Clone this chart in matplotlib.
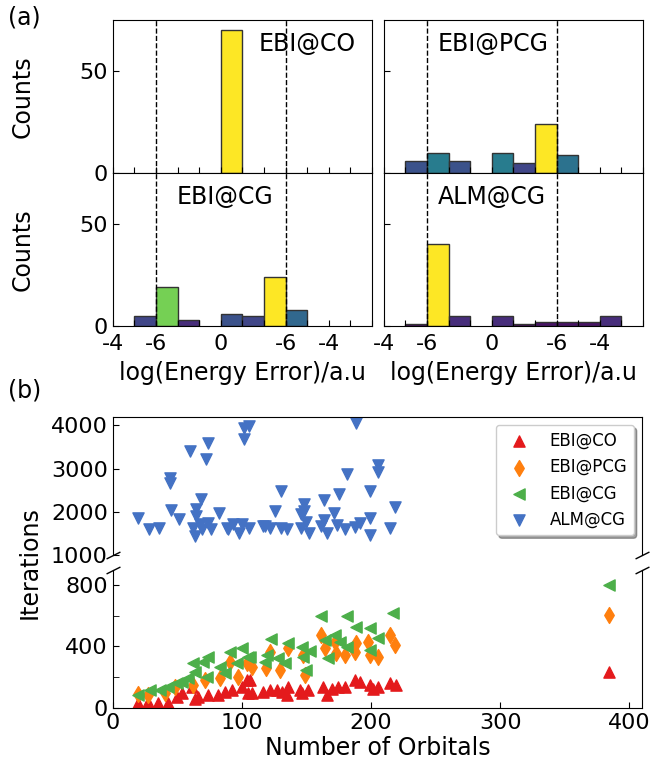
import numpy as np
import matplotlib
matplotlib.use("Agg")
from matplotlib import pyplot as plt

# ---- panel (a): histogram bins (position on the error axis) and counts
bins_co = [5]
counts_co = [70]
bins_pcg = [1, 2, 3, 5, 6, 7, 8]
counts_pcg = [6, 10, 6, 10, 5, 24, 9]
bins_cg = [1, 2, 3, 5, 6, 7, 8]
counts_cg = [5, 19, 3, 6, 5, 24, 8]
bins_alm = [1, 2, 3, 5, 6, 7, 8, 9, 10]
counts_alm = [1, 40, 5, 5, 1, 2, 2, 2, 5]

hist_names = ["EBI@CO", "EBI@PCG", "EBI@CG", "ALM@CG"]
err_ticklabels = ["-4", "", "-6", "", "", "0", "", "", "-6", "", "-4", "", ""]

# ---- panel (b): iterations vs number of orbitals
co_x = [19.8, 27.5, 35.3, 43, 49.5, 53.4, 61, 63.6, 66, 74, 81.7, 86.9, 92, 99.8, 103.6,
        104.9, 106, 107.5, 116.5, 121.7, 126.8, 130.7, 134.6, 135.8, 144.9, 146.2, 151.3,
        162.9, 165.5, 169.4, 174.5, 179.7, 187.4, 191.3, 199, 201.5, 205.4, 214.5, 219.6, 384]
co_y = [29, 39, 29, 29, 72, 94, 137, 61, 72, 83, 83, 104, 115, 137, 180,
        94, 180, 94, 104, 115, 115, 104, 83, 137, 115, 94, 115,
        137, 83, 126, 137, 137, 180, 170, 148, 126, 137, 159, 148, 231]

pcg_x = [19.8, 27.5, 40.5, 48.2, 62.3, 71.4, 83, 90.7, 97.1, 103.6, 107.5, 119, 121.7,
         129.4, 135.8, 147.4, 148.7, 161.6, 164.2, 171.9, 173.2, 179.7, 187.4, 188.7,
         197.7, 199, 205.4, 214.5, 218.3, 384]
pcg_y = [90, 83, 94, 137, 148, 180, 192, 300, 202, 290, 267, 257, 365,
         246, 387, 344, 213, 474, 387, 430, 355, 344, 365, 420,
         430, 344, 333, 474, 409, 604]

cg_x = [19.8, 28.8, 36.6, 43, 49.5, 53.4, 58.5, 62.3, 63.6, 70, 72.7, 74, 83, 86.9, 90.7,
        95.9, 99.8, 104.9, 106.2, 117.8, 119.1, 122.4, 128, 133.3, 135.8, 146.2, 147.4,
        150, 152.6, 161.6, 164.2, 166.8, 171.9, 175.8, 181, 181, 188.7, 199, 199, 205.4,
        217, 384]
cg_y = [83, 115, 115, 137, 159, 170, 192, 290, 235, 300, 202, 333, 267, 224, 365,
        290, 387, 333, 333, 300, 344, 448, 322, 290, 420, 398, 333,
        246, 372, 598, 441, 328, 474, 430, 598, 398, 528, 517, 376, 452,
        615, 800]

alm_x = [19.7, 28, 36, 44.3, 44.3, 45, 51.3, 60, 64.2, 64.2, 61.9, 63.7, 68, 67.5, 68.8,
         72.2, 74, 74, 76, 82, 88.2, 89.4, 93.3, 98, 99.8, 101.8, 101.8, 105.6, 105.6, 116,
         117.8, 121.7, 130.2, 126, 130.2, 135, 148, 148, 146, 150, 145.6, 152, 163.7, 163.7,
         161.6, 166, 171, 173.7, 175, 180, 181, 188, 187.4, 191.8, 199, 199, 199, 205, 205,
         214.5, 218.9]
alm_y = [1868, 1614, 1628, 2792, 2677, 2044, 1829, 3407, 2060, 1906, 1637, 1443, 2291, 1714, 1598,
         3215, 3600, 1753, 1598, 1984, 1637, 1598, 1714, 1522, 1714, 3947, 3693, 3985, 1637, 1675,
         1675, 1637, 2483, 2021, 1637, 1598, 2175, 2021, 1945, 1767, 1628, 1506, 2275, 1806,
         1675, 1506, 1968, 1707, 2406, 1614, 2868, 4062, 1660, 1737, 2483, 1868, 1460, 3083, 2922,
         1637, 2113]

plt.rcParams['font.family'] = 'DejaVu Sans'
plt.rcParams['xtick.direction'] = 'in'
plt.rcParams['ytick.direction'] = 'in'

fig = plt.figure(figsize=(6.52, 7.62), dpi=100)

# ---------------- (a) ----------------
gs_a = fig.add_gridspec(2, 2, left=0.173, right=0.986, top=0.974, bottom=0.572,
                        wspace=0.046, hspace=0)
axs = []
for r in range(2):
    for c in range(2):
        axs.append(fig.add_subplot(gs_a[r, c]))

hists = [(bins_co, counts_co), (bins_pcg, counts_pcg), (bins_cg, counts_cg), (bins_alm, counts_alm)]
cmap = plt.get_cmap('viridis')
for i, ax in enumerate(axs):
    b, c = hists[i]
    cols = [cmap(v / max(c)) for v in c]
    ax.bar(b, c, width=1, align='edge', color=cols, edgecolor='0.2', linewidth=1)
    ax.axvline(2, color='k', ls='--', lw=1)
    ax.axvline(8, color='k', ls='--', lw=1)
    ax.set_xlim(0, 12)
    ax.set_ylim(0, 75)
    ax.set_yticks([0, 50])
    if i < 2:
        ax.set_xticks(range(13), [''] * 13)
    else:
        ax.set_xticks(range(13), err_ticklabels)
        ax.set_xlabel("log(Energy Error)/a.u", fontsize=17, labelpad=5)
    ax.tick_params(labelsize=16, length=4)
    ax.tick_params(axis='x', pad=6)
    if i % 2 == 1:
        ax.set_yticklabels([])
    else:
        ax.set_ylabel("Counts", fontsize=17)
        ax.yaxis.set_label_coords(-0.3, 0.5)

axs[0].text(9.0, 63, hist_names[0], fontsize=17, ha='center', va='center')
axs[1].text(5.05, 63, hist_names[1], fontsize=17, ha='center', va='center')
axs[2].text(5.2, 63, hist_names[2], fontsize=17, ha='center', va='center')
axs[3].text(5.0, 63, hist_names[3], fontsize=17, ha='center', va='center')

fig.text(0.012, 0.993, "(a)", fontsize=17, va='top')
fig.text(0.012, 0.488, "(b)", fontsize=17, va='center')

# ---------------- (b) ----------------
gs_b = fig.add_gridspec(2, 1, left=0.173, right=0.985, top=0.453, bottom=0.071, hspace=0.105)
ax_top = fig.add_subplot(gs_b[0])
ax_bot = fig.add_subplot(gs_b[1], sharex=ax_top)

red = '#e41a1c'
orange = '#ff7f0e'
green = '#4daf4a'
blue = '#4472c4'

for ax in (ax_top, ax_bot):
    ax.scatter(co_x, co_y, marker='^', s=65, color=red, label='EBI@CO')
    ax.scatter(pcg_x, pcg_y, marker='d', s=65, color=orange, label='EBI@PCG')
    ax.scatter(cg_x, cg_y, marker='<', s=65, color=green, label='EBI@CG')
    ax.scatter(alm_x, alm_y, marker='v', s=65, color=blue, label='ALM@CG')

ax_top.set_ylim(1000, 4200)
ax_bot.set_ylim(0, 900)
ax_bot.set_xlim(0, 410)
ax_top.spines['bottom'].set_visible(False)
ax_bot.spines['top'].set_visible(False)
ax_top.tick_params(axis='x', which='both', bottom=False, labelbottom=False)
ax_top.set_yticks([1000, 2000, 3000, 4000])
ax_bot.set_yticks([0, 400, 800])
ax_bot.set_yticks([200, 600], minor=True)
ax_bot.set_xticks([0, 100, 200, 300, 400])
ax_top.tick_params(labelsize=16, length=4)
ax_bot.tick_params(labelsize=16, length=4)
ax_bot.tick_params(which='minor', length=4)
ax_bot.set_xlabel("Number of Orbitals", fontsize=17, labelpad=2)
fig.text(0.045, 0.262, "Iterations", fontsize=17, rotation=90, ha='center', va='center')

# break marks
d = 0.5
kw = dict(marker=[(-1, -d), (1, d)], markersize=10, linestyle='none', color='k',
          mec='k', mew=1, clip_on=False)
ax_top.plot([0, 1], [0, 0], transform=ax_top.transAxes, **kw)
ax_bot.plot([0, 1], [1, 1], transform=ax_bot.transAxes, **kw)

h, l = ax_top.get_legend_handles_labels()
ax_top.legend(h, l, loc='upper right', fontsize=12, shadow=True, framealpha=1)

fig.savefig("out.png", dpi=100)
